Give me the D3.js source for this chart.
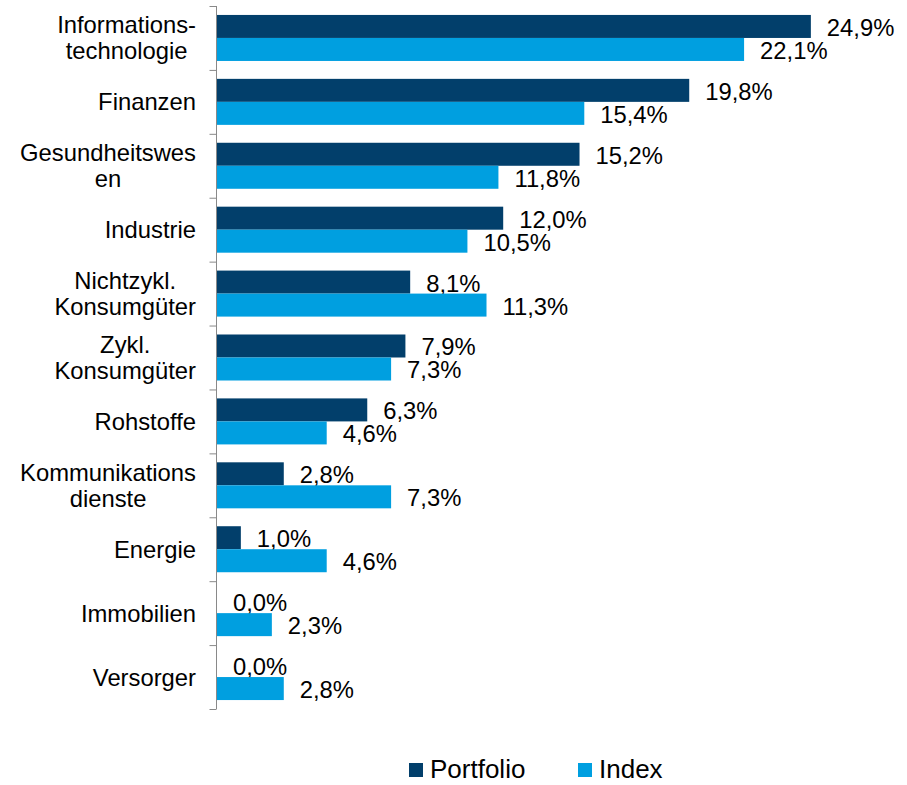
<!DOCTYPE html>
<html>
<head>
<meta charset="utf-8">
<script src="https://cdn.jsdelivr.net/npm/d3@7"></script>
<style>
  body { margin: 0; background: #fff; }
  svg { font-family: Arial, "Liberation Sans", sans-serif; }
  .axis path, .axis line { stroke: #898989; }
</style>
</head>
<body>
<svg id="chart" width="907" height="785"></svg>
<script>
var categories = [
  "Informations-\ntechnologie",
  "Finanzen",
  "Gesundheitswes\nen",
  "Industrie",
  "Nichtzykl.\nKonsumgüter",
  "Zykl.\nKonsumgüter",
  "Rohstoffe",
  "Kommunikations\ndienste",
  "Energie",
  "Immobilien",
  "Versorger"
];
var seriesNames = ["Portfolio", "Index"];
var portfolio = [24.9, 19.8, 15.2, 12.0, 8.1, 7.9, 6.3, 2.8, 1.0, 0.0, 0.0];
var indexValues = [22.1, 15.4, 11.8, 10.5, 11.3, 7.3, 4.6, 7.3, 4.6, 2.3, 2.8];
var colors = ["#023f6b", "#009fe0"];

var fontSize = 23.8;
var axisX = 216;
var plotTop = 6, plotBottom = 709;

var svg = d3.select("#chart");

var rows = categories.map(function(c, i) {
  return {cat: c, values: [portfolio[i], indexValues[i]]};
});

var y = d3.scaleBand()
    .domain(categories)
    .range([plotTop, plotBottom])
    .paddingInner(0)
    .paddingOuter(0);

var yInner = d3.scaleBand()
    .domain(seriesNames)
    .range([0, y.bandwidth()])
    .paddingInner(0)
    .paddingOuter(0.389);

var x = d3.scaleLinear()
    .domain([0, 25])
    .range([axisX + 1, axisX + 1 + 25 * 23.85]);

// axis with ticks on the category boundaries
var yEdges = d3.scaleLinear()
    .domain([0, categories.length])
    .range([plotTop, plotBottom]);

svg.append("g")
    .attr("class", "axis")
    .attr("transform", `translate(${axisX + 0.5}, 0)`)
    .call(d3.axisLeft(yEdges)
        .tickValues(d3.range(categories.length + 1))
        .tickSize(7)
        .tickSizeOuter(0)
        .tickFormat(""))
    .call(function(g) { g.select(".domain").attr("d", `M0,${plotTop}V${plotBottom}`); });

// category labels, lines centred on each other, block right aligned
var labelRight = 196;
var lineH = 26;
rows.forEach(function(r) {
  var lines = r.cat.split("\n");
  var cy = y(r.cat) + y.bandwidth() / 2 + 8.5;
  var t = svg.append("text")
      .attr("font-size", fontSize)
      .attr("fill", "#000")
      .attr("text-anchor", "middle");
  lines.forEach(function(line, k) {
    t.append("tspan")
        .attr("y", cy + (k - (lines.length - 1) / 2) * lineH)
        .text(line);
  });
  var w = 0;
  t.selectAll("tspan").each(function() {
    w = Math.max(w, this.getComputedTextLength());
  });
  t.selectAll("tspan").attr("x", labelRight - w / 2);
});

var group = svg.selectAll("g.row")
    .data(rows)
    .enter().append("g")
      .attr("class", "row")
      .attr("transform", function(d) { return `translate(0, ${y(d.cat)})`; });

var bar = group.selectAll("g")
    .data(function(d) {
      return d.values.map(function(v, i) { return {name: seriesNames[i], v: v, i: i}; });
    })
    .enter().append("g");

bar.append("rect")
    .attr("x", x(0))
    .attr("y", function(d) { return yInner(d.name); })
    .attr("width", function(d) { return x(d.v) - x(0); })
    .attr("height", yInner.bandwidth())
    .attr("fill", function(d) { return colors[d.i]; });

bar.append("text")
    .attr("x", function(d) { return x(d.v) + 16; })
    .attr("y", function(d) { return yInner(d.name) + yInner.bandwidth() / 2 + 9.5; })
    .attr("font-size", fontSize)
    .attr("fill", "#000")
    .text(function(d) { return d.v.toFixed(1).replace(".", ",") + "%"; });

// legend
var legendX = [409, 578];
var legend = svg.selectAll("g.legend")
    .data(seriesNames)
    .enter().append("g")
      .attr("class", "legend")
      .attr("transform", function(d, i) { return `translate(${legendX[i]}, 763)`; });
legend.append("rect")
    .attr("width", 14)
    .attr("height", 14)
    .attr("fill", function(d, i) { return colors[i]; });
legend.append("text")
    .attr("x", 21)
    .attr("y", 15)
    .attr("font-size", 26)
    .attr("fill", "#000")
    .text(function(d) { return d; });
</script>
</body>
</html>
